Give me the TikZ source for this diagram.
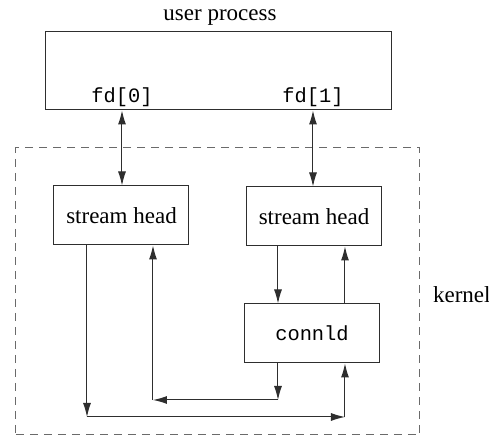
\documentclass[tikz,border=0pt]{standalone}
\usepackage{fontspec}
\setmainfont{Liberation Serif}
\setmonofont{Liberation Mono}
\usetikzlibrary{arrows.meta, positioning}
\definecolor{cline}{HTML}{2e2e2e}
\definecolor{cdash}{HTML}{6a6a6a}

\begin{document}
\begin{tikzpicture}[
  x=0.5pt, y=-0.5pt,
  font=\fontsize{11.5}{13}\selectfont,
  >={Latex[length=7pt,width=4pt]},
  box/.style={draw=cline, line width=0.5pt, inner sep=0pt},
  modbox/.style={box, minimum width=67.5pt, minimum height=29.5pt},
  arr/.style={->, line width=0.5pt, draw=cline},
  ttlabel/.style={font=\ttfamily\fontsize{10.2}{12}\selectfont, inner sep=0pt},
  ]
\useasboundingbox (0,0) rectangle (489,437);
% kernel boundary
\node[draw=cdash, line width=0.5pt, dash pattern=on 4pt off 3pt,
      minimum width=202pt, minimum height=143.5pt, inner sep=0pt] (kbox) at (218,291.5) {};
\node[anchor=west] (kern) at (426,295) {kernel};
% user process
\node[box, minimum width=173pt, minimum height=39pt] (up) at (219,71) {};
\node (uplab) at (220,18) {user process};
\node[ttlabel] (fd0) at (122,97) {fd[0]};
\node[ttlabel] (fd1) at (313,97) {fd[1]};
% streams modules
\node[modbox] (sh0) at (121.5,215.5) {stream head};
\node[modbox] (sh1) at (314,216.5) {stream head};
\node[modbox, ttlabel] (cl) at (312,333.5) {connld};
% corner points of the loop-back paths
\coordinate (p1) at (87,417);
\coordinate (p2) at (345,417);
\coordinate (q1) at (278,400);
\coordinate (q2) at (153,400);
\draw[arr, <->] (up.south -| fd0) -- (sh0.north -| fd0);
\draw[arr, <->] (up.south -| fd1) -- (sh1.north -| fd1);
\draw[arr] (sh1.south -| q1) -- (cl.north -| q1);
\draw[arr] (cl.north -| p2) -- (sh1.south -| p2);
\draw[arr] (sh0.south -| p1) -- (p1);
\draw[arr] (p1) -- (p2);
\draw[arr] (p2) -- (cl.south -| p2);
\draw[arr] (cl.south -| q1) -- (q1);
\draw[arr] (q1) -- (q2);
\draw[arr] (q2) -- (sh0.south -| q2);
\end{tikzpicture}
\end{document}
